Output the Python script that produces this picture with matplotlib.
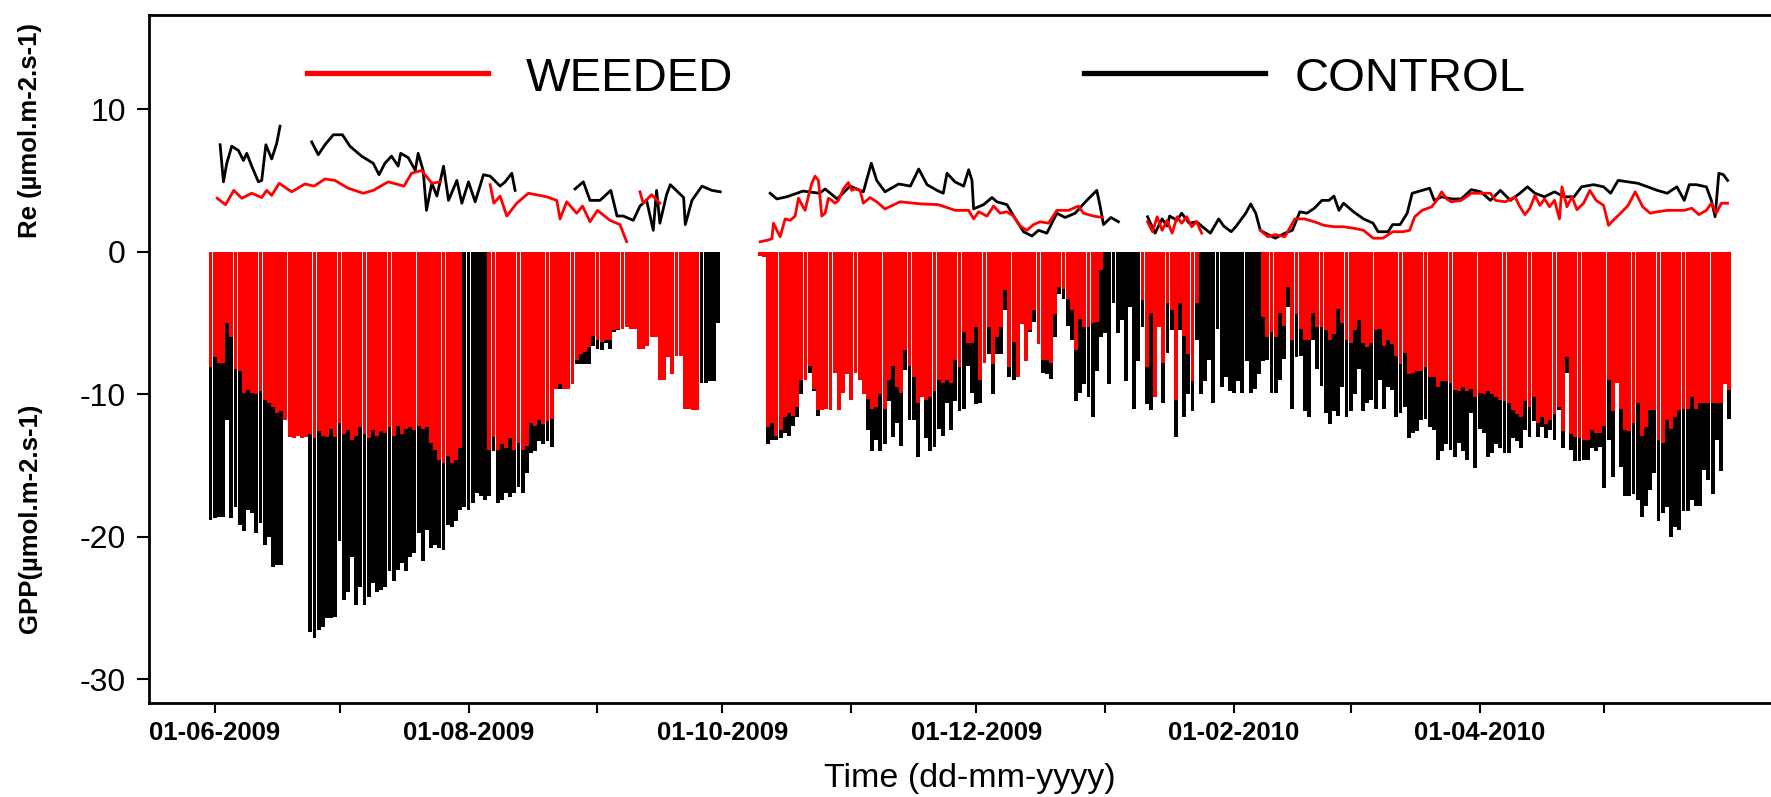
import numpy as np
import pandas as pd
import matplotlib
matplotlib.use("Agg")
import matplotlib.pyplot as plt
import matplotlib.dates as mdates
from matplotlib.lines import Line2D

nan = np.nan

# =============================
#     DATA
# =============================

# daily GPP minimum (umol m-2 s-1), first period from 31-05-2009
gpp_start_1 = "2009-05-31"
gpp_control_1 = [
    -18.8, -18.7, -18.6, -18.6, -11.8, -18.7, -17.9, -19.2, -19.6, -18.1,
    -18.3, -19.7, -19.0, -20.6, -20.0, -22.1, -22.0, -22.0, nan, nan,
    nan, nan, nan, nan, -26.7, -27.1, -26.5, -26.3, -25.7, -25.7,
    -25.6, -20.3, -24.4, -23.9, -21.4, -24.8, -23.5, -24.8, -24.2, -23.2,
    -23.9, -23.7, -23.5, -22.4, -23.1, -22.3, -21.8, -22.4, -21.4, -21.1,
    -19.7, -21.7, -19.5, -20.8, -20.6, -20.8, -20.9, -19.2, -19.3, -18.9,
    -18.1, -17.9, -18.1, -17.6, -16.9, -17.1, -17.4, -17.1, -14.0, -17.6,
    -17.4, -16.9, -17.2, -16.9, -16.5, -16.9, -15.5, -14.1, -14.0, -13.3,
    -13.5, -13.3, -13.7, -9.3, -9.6, -9.2, -9.5, -9.0, -7.9, -7.9,
    -7.9, -7.9, -6.6, -6.8, -6.9, -6.4, -6.8, -5.6, -5.5, -4.4,
    -2.4, -4.7, -5.0, -6.0, -5.0, -6.0, -3.6, -5.2, -4.5, -2.1,
    -6.0, -6.5, -5.5, -7.3, -7.9, -4.5, -6.0, -5.5, -9.2, -9.2,
    -9.1, -9.1, -5.0]
gpp_weeded_1 = [
    -8.1, -7.4, -7.8, -7.8, -5.0, -6.0, -8.2, -8.4, -9.9, -9.7,
    -9.9, -10.0, -9.8, -10.4, -10.6, -10.9, -11.3, -11.2, -11.8, -13.0,
    -13.1, -12.9, -13.1, -13.0, -12.8, -13.1, -12.6, -12.9, -13.0, -12.4,
    -13.0, -12.0, -12.8, -12.5, -13.2, -12.9, -12.3, -12.8, -13.1, -12.5,
    -12.9, -12.6, -12.7, -12.3, -12.9, -12.2, -12.8, -12.4, -12.3, -12.5,
    -12.2, -12.4, -12.3, -13.4, -13.9, -14.6, -14.8, -14.3, -14.8, -14.6,
    -13.8, nan, nan, nan, nan, nan, nan, -13.9, -13.0, -13.9,
    -13.5, -13.8, -13.1, -13.9, -13.4, -13.9, -13.6, -12.0, -12.2, -11.8,
    -12.1, -11.9, -11.7, -9.6, -9.3, -9.6, -9.6, -9.3, -7.6, -7.2,
    -7.0, -6.7, -5.9, -6.2, -6.3, -6.2, -6.2, -5.5, -5.4, -5.4,
    -5.3, -5.4, -5.4, -6.8, -6.8, -6.6, -6.0, -6.0, -9.0, -9.0,
    -7.4, -8.6, -7.3, -7.3, -11.0, -11.0, -11.1, -11.1, nan, nan,
    nan, nan, nan]

# second period from 10-10-2009
gpp_start_2 = "2009-10-10"
gpp_control_2 = [
    nan, -0.3, -13.5, -13.2, -13.2, -13.1, -12.7, -12.9, -12.2, -11.6,
    -10.0, -9.0, -8.5, -9.8, -11.5, -11.0, -10.5, -10.8, -8.0, -10.5,
    -9.5, -8.0, -10.0, -8.0, -9.0, -9.5, -12.5, -14.0, -13.2, -14.0,
    -13.5, -10.5, -13.0, -12.0, -13.6, -8.3, -11.8, -11.8, -14.4, -10.2,
    -13.1, -14.0, -13.7, -12.4, -12.9, -10.6, -12.5, -10.5, -11.2, -11.0,
    -8.0, -9.9, -10.7, -10.6, -6.8, -7.2, -10.0, -7.2, -7.2, -4.1,
    -8.8, -9.0, -8.8, -4.4, -5.7, -5.6, -4.9, -6.5, -8.5, -8.6,
    -8.9, -6.0, -3.0, -3.3, -5.2, -6.2, -10.5, -9.9, -9.3, -10.2,
    -11.6, -8.4, -6.0, -5.7, -9.3, -3.6, -5.7, -4.8, -9.1, -3.9,
    -11.0, -7.7, -5.3, -10.7, -11.1, -10.2, -5.3, -10.6, -7.1, -5.5,
    -13.0, -5.5, -11.6, -10.0, -11.2, -6.2, -10.0, -9.1, -7.6, -10.6,
    -5.4, -9.5, -8.8, -9.8, -9.9, -9.1, -9.9, -7.7, -9.9, -9.6,
    -8.6, -7.7, -7.6, -9.9, -9.9, -9.0, -7.5, -3.9, -11.0, -7.4,
    -7.3, -11.2, -11.6, -6.2, -8.2, -9.4, -11.3, -12.1, -11.2, -11.5,
    -9.5, -11.6, -11.2, -10.0, -8.2, -11.2, -10.6, -10.4, -11.0, -9.0,
    -11.0, -9.5, -9.7, -11.6, -11.3, -10.9, -13.1, -12.7, -12.6, -11.8,
    -11.7, -12.3, -12.5, -14.6, -14.0, -13.5, -13.9, -14.4, -13.4, -14.0,
    -14.6, -11.3, -15.2, -12.4, -12.7, -14.4, -14.1, -13.5, -13.8, -14.1,
    -14.1, -13.1, -13.3, -13.8, -12.5, -13.0, -11.9, -13.0, -12.3, -13.1,
    -12.5, -13.2, -11.1, -13.8, -8.5, -13.9, -14.7, -14.7, -14.6, -14.6,
    -13.8, -14.0, -13.7, -16.6, -13.2, -15.8, -9.2, -15.1, -17.1, -17.1,
    -17.0, -17.4, -18.6, -17.8, -16.7, -15.5, -18.9, -18.3, -17.9, -20.0,
    -19.3, -19.5, -18.2, -18.2, -17.4, -17.8, -17.8, -15.3, -16.0, -17.0,
    -13.2, -15.4, -9.3, -11.7]
gpp_weeded_2 = [
    -0.3, -0.4, -12.3, -12.0, -12.9, -12.5, -11.6, -11.3, -11.5, -10.9,
    -9.0, -9.0, -8.0, -9.6, -11.1, -11.1, -11.0, -11.1, -8.5, -11.1,
    -9.9, -8.6, -10.4, -8.5, -9.0, -10.0, -10.3, -11.0, -10.9, -10.0,
    -11.0, -9.0, -8.0, -9.5, -9.9, -6.9, -8.0, -8.8, -10.6, -10.2,
    -10.4, -10.2, -9.8, -9.0, -9.2, -9.0, -9.2, -7.6, -8.1, -5.6,
    -6.4, -6.4, -5.3, -9.0, -7.8, -5.3, -7.9, -6.0, -5.3, -2.7,
    -8.1, -6.3, -8.8, -5.1, -7.7, -5.5, -4.1, -6.5, -7.6, -7.6,
    -7.8, -4.4, -2.5, -2.6, -3.3, -4.1, -6.9, -4.7, -5.3, -5.3,
    -5.0, -4.9, -1.3, nan, nan, nan, nan, nan, nan, nan,
    nan, nan, -3.4, -8.1, -4.3, -10.2, -5.3, -7.8, -3.6, -4.1,
    -10.4, -3.6, -5.9, -7.2, -9.1, -3.6, nan, nan, nan, nan,
    nan, nan, nan, nan, nan, nan, nan, nan, nan, nan,
    nan, -4.6, -6.0, -5.6, -6.0, -4.3, -5.2, -2.5, -6.2, -4.4,
    -5.4, -6.2, -6.2, -4.3, -5.3, -5.3, -5.5, -6.2, -5.8, -4.0,
    -5.0, -6.2, -6.4, -5.5, -4.8, -6.4, -6.7, -6.4, -5.5, -5.4,
    -6.6, -6.2, -6.5, -7.3, -7.9, -7.1, -8.6, -8.5, -8.4, -8.4,
    -8.1, -8.8, -8.8, -9.5, -9.1, -9.1, -9.2, -9.7, -9.8, -9.5,
    -9.8, -9.6, -10.2, -9.9, -10.0, -9.8, -10.0, -10.2, -10.4, -10.5,
    -10.6, -11.1, -11.4, -11.6, -10.5, -10.9, -10.2, -12.0, -11.6, -12.1,
    -11.8, -11.4, -10.9, -12.6, -7.4, -12.8, -13.0, -13.1, -13.2, -13.2,
    -12.5, -12.7, -12.7, -12.2, -9.0, -11.2, -9.2, -11.0, -12.5, -12.6,
    -12.0, -10.6, -12.9, -12.3, -11.1, -11.1, -13.2, -13.4, -11.8, -12.4,
    -11.6, -11.1, -11.0, -11.0, -10.2, -11.0, -10.6, -10.6, -10.6, -10.6,
    -10.6, -10.6, -9.3, -9.7]

# Re (umol m-2 s-1), day counted from 01-06-2009, nan = gap
re_origin = "2009-06-01"
re_control_day = [
    1.3, 2.1, 2.9, 4.1, 5.7, 6.9, 7.7, 8.9, 10.5, 11.3, 12.3, 13.7, 14.9, 15.7, 19.5,
    23.3, 24.9, 26.5, 28.5, 30.7, 32.5, 35.3, 38.1, 39.5, 40.9, 42.5, 44.1, 44.7, 46.5,
    48.2, 48.9, 50.1, 50.9, 51.7, 52.2, 53.4, 55.0, 56.2, 58.2, 59.4, 61.0, 62.6, 64.6,
    66.2, 68.6, 69.8, 71.4, 72.2, 80.0,
    86.6, 88.6, 90.2, 92.6, 95.2, 96.7, 98.2, 100.6, 102.2, 103.8, 105.4, 106.2, 107.0,
    108.6, 109.5, 112.7, 113.1, 114.7, 117.1, 119.5, 121.5, 127.0,
    133.5, 135.1, 137.5, 141.4, 145.4, 146.7, 149.6, 152.7, 155.9, 157.8, 159.1, 161.1,
    164.4, 167.2, 169.2, 171.2, 173.6, 175.1, 176.0, 177.9, 180.0, 181.2, 182.0, 182.4,
    184.8, 186.8, 188.0, 190.4, 192.0, 194.4, 196.4, 198.0, 200.0, 202.4, 204.4, 206.8,
    209.6, 212.0, 212.8, 213.6, 215.4, 217.2, 220.0,
    224.2, 226.0, 227.7, 228.9, 229.5, 231.3, 232.4, 234.2, 236.0, 237.2, 239.3, 241.3,
    242.5, 244.3, 245.4, 247.8, 249.0, 250.2, 251.3, 252.5, 254.9, 257.2, 259.0, 260.8,
    262.5, 264.3, 266.1, 267.8, 269.0, 270.2, 271.3, 273.7, 276.1, 278.4, 279.6, 282.0,
    283.1, 284.9, 286.6, 287.8, 290.2, 292.0, 293.1, 294.9, 297.2, 299.6, 302.0, 304.3,
    306.6, 309.0, 311.4, 313.7, 315.5, 317.3, 319.6, 322.0, 324.3, 326.7, 328.5, 331.4,
    333.8, 335.5, 337.3, 339.7, 342.0, 344.4, 346.7, 349.1, 351.4, 353.2, 354.4, 356.1,
    358.5, 359.7, 360.6, 361.5, 362.6, 363.6]
re_control = [
    7.5, 4.9, 6.2, 7.4, 7.1, 6.4, 6.9, 6.0, 4.9, 5.0, 7.5, 6.5, 7.6, 8.8, nan,
    7.7, 6.8, 7.5, 8.2, 8.2, 7.4, 6.7, 6.2, 5.4, 6.2, 6.7, 6.0, 6.9, 6.6,
    5.7, 6.9, 5.7, 2.9, 4.1, 4.8, 3.9, 6.0, 3.6, 5.0, 3.4, 4.9, 3.5, 5.4,
    5.3, 4.6, 4.9, 5.5, 4.3, nan,
    4.4, 4.9, 3.6, 3.6, 4.3, 2.5, 2.5, 2.2, 3.2, 3.6, 1.5, 4.3, 2.0,
    4.0, 4.7, 3.8, 1.9, 3.6, 4.6, 4.3, 4.2, nan,
    4.1, 3.7, 3.85, 4.25, 4.1, 4.4, 3.7, 4.6, 4.2, 6.2, 5.0, 4.2,
    4.75, 4.6, 5.8, 4.7, 4.3, 4.1, 5.5, 4.9, 4.6, 5.75, 5.0, 3.0,
    3.3, 3.8, 3.5, 3.3, 2.5, 1.4, 1.1, 1.5, 1.3, 2.7, 2.4, 2.7,
    3.6, 4.3, 3.2, 1.9, 2.4, 2.1, nan,
    2.45, 1.3, 2.3, 1.8, 2.5, 2.2, 2.7, 2.0, 2.1, 1.8, 1.3, 2.3,
    1.8, 1.4, 1.75, 2.7, 3.35, 2.7, 1.5, 1.3, 0.95, 1.3, 1.5, 2.8,
    2.7, 3.05, 3.6, 3.6, 3.9, 2.9, 3.4, 2.8, 2.3, 2.0, 1.4, 1.4,
    1.9, 1.9, 2.7, 4.1, 4.3, 4.45, 3.6, 3.85, 3.7, 3.7, 4.35, 4.2,
    3.6, 4.3, 3.6, 4.1, 4.55, 4.1, 3.85, 4.2, 3.85, 3.85, 4.55, 4.7,
    4.55, 4.1, 5.0, 4.9, 4.8, 4.55, 4.3, 4.1, 4.55, 3.6, 4.7, 4.7,
    4.55, 3.6, 2.45, 5.5, 5.4, 5.0]
re_weeded_day = [
    0.6, 2.6, 4.6, 6.5, 8.9, 11.3, 12.5, 13.7, 15.5, 18.5, 21.7, 23.9, 26.5, 28.9,
    32.1, 35.7, 38.1, 41.7, 45.5, 47.3, 49.7, 52.2, 54.2, 60.0,
    66.2, 67.1, 68.6, 70.2, 72.6, 75.4, 79.8, 82.2, 83.0, 84.6, 87.0, 88.4, 90.2,
    92.0, 95.0, 97.4, 99.0, 100.5,
    102.2, 103.0, 105.0, 107.0, 120.0,
    131.1, 132.7, 133.9, 134.3, 135.1, 135.9, 137.1, 138.3, 139.5, 140.3, 141.1, 141.9,
    142.7, 143.5, 144.3, 145.1, 145.9, 146.7, 147.5, 148.3, 149.1, 149.9, 151.1, 152.3,
    153.1, 153.9, 155.1, 155.9, 157.5, 159.1, 161.1, 164.7, 169.9, 173.9, 178.0, 181.2,
    182.4, 183.6, 185.6, 187.2, 188.8, 190.4, 192.0, 193.6, 195.2, 196.8, 198.4, 200.4,
    202.4, 205.2, 207.6, 208.8, 211.2, 213.2, 218.0,
    224.2, 225.4, 226.5, 227.7, 228.9, 230.1, 231.3, 232.4, 233.6, 234.8, 236.0, 237.2,
    244.0,
    251.3, 253.1, 254.9, 257.2, 259.6, 261.9, 264.3, 266.6, 269.0, 271.3, 273.7, 276.1,
    278.4, 280.8, 283.1, 285.5, 287.2, 288.4, 290.2, 292.5, 293.7, 294.9, 296.1, 297.2,
    299.6, 302.0, 304.3, 306.6, 307.8, 310.2, 312.5, 313.7, 314.9, 316.1, 317.3, 318.5,
    319.6, 320.8, 322.0, 323.2, 323.8, 325.0, 326.2, 327.4, 329.0, 330.5, 332.0, 333.8,
    335.0, 336.1, 337.9, 339.7, 341.4, 343.2, 345.0, 346.7, 349.1, 351.4, 353.2, 355.0,
    356.7, 358.5, 359.7, 360.9, 362.1, 363.6]
re_weeded = [
    3.75, 3.3, 4.3, 3.75, 4.1, 3.8, 4.3, 3.95, 4.8, 4.2, 4.75, 4.6, 5.1, 5.0,
    4.45, 4.1, 4.3, 4.9, 4.6, 5.5, 5.7, 4.8, 4.9, nan,
    4.7, 3.4, 3.9, 2.5, 3.4, 4.1, 3.85, 3.6, 2.3, 3.5, 2.7, 3.2, 2.1,
    2.9, 2.2, 1.9, 0.7, nan,
    4.2, 3.4, 4.0, 3.4, nan,
    0.7, 0.8, 0.9, 2.0, 1.5, 1.05, 2.3, 2.2, 2.5, 3.75, 3.3, 2.9,
    3.9, 4.8, 5.3, 5.0, 2.5, 2.7, 3.75, 3.6, 3.4, 3.6, 4.4, 4.85,
    4.3, 4.4, 4.3, 3.4, 3.8, 3.5, 3.0, 3.5, 3.35, 3.3, 2.9, 2.9,
    2.3, 2.8, 2.5, 3.2, 2.7, 2.8, 2.5, 1.8, 1.5, 1.9, 2.1, 2.0,
    2.9, 2.9, 3.2, 2.7, 2.5, 2.4, nan,
    2.1, 1.4, 2.45, 1.5, 2.2, 1.3, 2.45, 2.0, 2.45, 1.75, 2.1, 1.3,
    nan,
    1.5, 1.05, 1.2, 1.05, 2.3, 2.3, 2.1, 1.85, 1.75, 1.75, 1.65, 1.5,
    0.95, 0.95, 1.4, 1.4, 1.5, 2.45, 2.9, 3.15, 3.6, 4.2, 3.7, 3.5,
    3.6, 4.1, 4.1, 4.1, 3.6, 3.5, 3.85, 3.15, 2.6, 3.05, 3.95, 3.25,
    3.7, 3.15, 3.6, 2.3, 4.55, 3.15, 3.85, 2.95, 3.4, 4.3, 3.6, 3.25,
    1.85, 2.2, 2.7, 3.25, 4.2, 3.15, 2.7, 2.8, 2.9, 2.9, 2.9, 3.05,
    2.6, 2.9, 3.4, 2.7, 3.4, 3.4]

tick_dates = pd.date_range("2009-06-01", "2010-05-01", freq="MS")
tick_labels = ["01-06-2009", "", "01-08-2009", "", "01-10-2009", "",
               "01-12-2009", "", "01-02-2010", "", "01-04-2010", ""]

# =============================
#        FIGURE
# =============================

plt.rcParams["font.family"] = ["Liberation Sans", "DejaVu Sans"]

W, H = 1771, 797
fig = plt.figure(figsize=(W / 100, H / 100), dpi=100)
ax = fig.add_axes([149 / W, 94 / H, (1780 - 149) / W, (703 - 15) / H])


def dnum(start, n):
    return mdates.date2num(pd.date_range(start, periods=n, freq="D").to_pydatetime())


def bars(start, vals, color, z):
    x = dnum(start, len(vals))
    v = np.array(vals, dtype=float)
    ok = ~np.isnan(v)
    ax.bar(x[ok], v[ok], width=0.93, color=color, linewidth=0, zorder=z)


bars(gpp_start_1, gpp_control_1, "black", 1)
bars(gpp_start_2, gpp_control_2, "black", 1)
bars(gpp_start_1, gpp_weeded_1, "#ff0000", 2)
bars(gpp_start_2, gpp_weeded_2, "#ff0000", 2)

x0 = mdates.date2num(pd.Timestamp(re_origin).to_pydatetime())
ax.plot(x0 + np.array(re_control_day), re_control, color="black", lw=2.0, zorder=3)
ax.plot(x0 + np.array(re_weeded_day), re_weeded, color="#ff0000", lw=2.0, zorder=4)

ax.set_ylim(-31.65, 16.6)
ax.set_xlim(x0 - 15.79, x0 + 376.2)
ax.set_yticks([-30, -20, -10, 0, 10])
ax.set_yticklabels(["-30", "-20", "-10", "0", "10"], fontsize=23)
ax.set_xticks(mdates.date2num(tick_dates.to_pydatetime()))
ax.set_xticklabels(tick_labels, fontsize=18.5, fontweight="bold")

for s in ["left", "bottom", "top"]:
    ax.spines[s].set_linewidth(2.0)
ax.spines["right"].set_visible(False)
ax.tick_params(axis="y", direction="out", length=8.6, width=1.5, pad=8)
ax.tick_params(axis="x", direction="out", length=7.2, width=1.5, pad=6)

# axis titles
fig.text(30.5 / W, 1 - 131 / H, "Re (µmol.m-2.s-1)", rotation=90, fontsize=18.5,
         fontweight="bold", ha="center", va="center")
fig.text(30.5 / W, 1 - 518 / H, "GPP(µmol.m-2.s-1)", rotation=90, fontsize=18.5,
         fontweight="bold", ha="center", va="center")
fig.text(970 / W, 1 - 778 / H, "Time (dd-mm-yyyy)", fontsize=24.5,
         ha="center", va="center")

# legend
fig.add_artist(Line2D([307 / W, 488 / W], [1 - 72.7 / H] * 2, color="#ff0000", lw=3.8))
fig.add_artist(Line2D([1083.6 / W, 1264.5 / W], [1 - 72.7 / H] * 2, color="black", lw=3.8))
fig.text(526 / W, 1 - 90.7 / H, "WEEDED", fontsize=34, ha="left", va="baseline")
fig.text(1295 / W, 1 - 90.7 / H, "CONTROL", fontsize=34, ha="left", va="baseline")

fig.savefig("out.png", dpi=100)
